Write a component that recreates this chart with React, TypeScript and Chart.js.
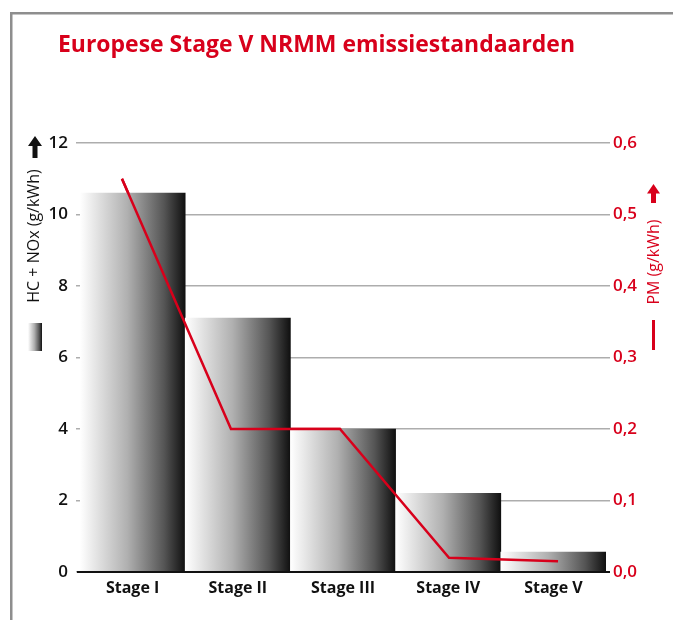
import React, { useEffect, useRef } from 'react';
import { Chart, registerables } from 'chart.js';

Chart.register(...registerables);

const stages = ['Stage I', 'Stage II', 'Stage III', 'Stage IV', 'Stage V'];
const hcNox = [10.6, 7.1, 4.0, 2.2, 0.56];
const pm = [0.55, 0.2, 0.2, 0.02, 0.015];
const hcTickLabels = ['0', '2', '4', '6', '8', '10', '12'];
const pmTickLabels = ['0,0', '0,1', '0,2', '0,3', '0,4', '0,5', '0,6'];
const titleText = 'Europese Stage V NRMM emissiestandaarden';
const leftAxisTitle = 'HC + NOx (g/kWh)';
const rightAxisTitle = 'PM (g/kWh)';

const RED = '#d8001b';
const INK = '#111111';
const GRID = 'rgba(0,0,0,0.32)';
const FONT = "'Open Sans', 'Noto Sans', sans-serif";

function barGradient(ctx: CanvasRenderingContext2D, x0: number, x1: number) {
  const g = ctx.createLinearGradient(x0, 0, x1, 0);
  g.addColorStop(0, '#ffffff');
  g.addColorStop(0.45, '#b0b0b0');
  g.addColorStop(0.8, '#555555');
  g.addColorStop(1, '#101010');
  return g;
}

const decorPlugin = {
  id: 'decor',
  beforeDraw(chart: any) {
    const ctx: CanvasRenderingContext2D = chart.ctx;
    ctx.save();
    ctx.fillStyle = '#ffffff';
    ctx.fillRect(0, 0, chart.width, chart.height);
    // frame
    ctx.strokeStyle = '#8e8e8e';
    ctx.lineWidth = 2.5;
    ctx.beginPath();
    ctx.moveTo(11.25, chart.height);
    ctx.lineTo(11.25, 13.25);
    ctx.lineTo(chart.width, 13.25);
    ctx.stroke();
    // title
    ctx.font = `bold 24px ${FONT}`;
    const w = ctx.measureText(titleText).width;
    ctx.translate(58, 52);
    ctx.scale(517 / w, 1);
    ctx.fillStyle = RED;
    ctx.textAlign = 'left';
    ctx.textBaseline = 'alphabetic';
    ctx.fillText(titleText, 0, 0);
    ctx.restore();
  },
  afterDraw(chart: any) {
    const ctx: CanvasRenderingContext2D = chart.ctx;
    const { chartArea, scales } = chart;
    const y0 = scales.y.getPixelForValue(0);
    ctx.save();
    ctx.strokeStyle = INK;
    ctx.lineWidth = 2;
    ctx.beginPath();
    ctx.moveTo(chartArea.left - 3, y0);
    ctx.lineTo(chartArea.right + 4, y0);
    ctx.stroke();
    ctx.restore();

    // redraw PM line above grid
    const meta = chart.getDatasetMeta(1);
    if (meta && meta.controller) meta.controller.draw();

    ctx.save();
    // left axis title
    ctx.font = `500 16px ${FONT}`;
    ctx.fillStyle = INK;
    ctx.textAlign = 'center';
    ctx.textBaseline = 'middle';
    ctx.save();
    ctx.translate(34, 236);
    ctx.rotate(-Math.PI / 2);
    ctx.fillText(leftAxisTitle, 0, 0);
    ctx.restore();
    // left arrow
    ctx.beginPath();
    ctx.moveTo(35, 136);
    ctx.lineTo(42, 146);
    ctx.lineTo(37.5, 146);
    ctx.lineTo(37.5, 158);
    ctx.lineTo(32.5, 158);
    ctx.lineTo(32.5, 146);
    ctx.lineTo(28, 146);
    ctx.closePath();
    ctx.fill();
    // left swatch
    ctx.fillStyle = barGradient(ctx, 28, 42);
    ctx.fillRect(28, 323, 14, 28);

    // right axis title
    ctx.fillStyle = RED;
    ctx.save();
    ctx.translate(654, 262);
    ctx.rotate(-Math.PI / 2);
    ctx.fillText(rightAxisTitle, 0, 0);
    ctx.restore();
    // right arrow
    ctx.beginPath();
    ctx.moveTo(653.5, 184);
    ctx.lineTo(660, 193.5);
    ctx.lineTo(656, 193.5);
    ctx.lineTo(656, 203);
    ctx.lineTo(651, 203);
    ctx.lineTo(651, 193.5);
    ctx.lineTo(647, 193.5);
    ctx.closePath();
    ctx.fill();
    // right swatch (line)
    ctx.fillRect(652, 320, 3, 30);
    ctx.restore();
  },
};

export default function App() {
  const ref = useRef<HTMLCanvasElement | null>(null);

  useEffect(() => {
    if (!ref.current) return;
    const chart = new Chart(ref.current, {
      type: 'bar',
      data: {
        labels: stages,
        datasets: [
          {
            type: 'bar',
            label: leftAxisTitle,
            data: hcNox,
            xAxisID: 'x',
            yAxisID: 'y',
            grouped: false,
            barPercentage: 1,
            categoryPercentage: 1,
            borderWidth: 0,
            backgroundColor: (c: any) => {
              const ch = c.chart;
              const xs = ch.scales && ch.scales.x;
              if (!xs || !ch.chartArea || c.dataIndex == null) return '#888888';
              const cx = xs.getPixelForValue(c.dataIndex);
              const half = (xs.right - xs.left) / stages.length / 2;
              return barGradient(ch.ctx, cx - half, cx + half);
            },
          } as any,
          {
            type: 'line',
            label: rightAxisTitle,
            data: pm.map((v, i) => ({ x: i, y: v })),
            xAxisID: 'xl',
            yAxisID: 'y1',
            borderColor: RED,
            borderWidth: 2.5,
            pointRadius: 0,
            tension: 0,
            fill: false,
          } as any,
        ],
      },
      options: {
        animation: false,
        responsive: false,
        devicePixelRatio: 1,
        layout: { padding: { left: 10, right: 7, top: 143, bottom: 0 } },
        plugins: {
          legend: { display: false },
          title: { display: false },
          tooltip: { enabled: false },
        },
        scales: {
          x: {
            type: 'category',
            offset: true,
            grid: { display: false, drawTicks: false },
            border: { display: false },
            ticks: {
              color: INK,
              font: { family: FONT, size: 16, weight: 'bold' },
              padding: 7,
              maxRotation: 0,
            },
            afterFit: (s: any) => {
              s.height = 48;
            },
          },
          xl: {
            type: 'linear',
            display: false,
            offset: false,
            grid: { offset: false },
            bounds: 'data',
            min: -0.385,
            max: 4.44,
          },
          y: {
            position: 'left',
            min: 0,
            max: 12,
            z: 1,
            ticks: {
              stepSize: 2,
              padding: 8,
              color: INK,
              font: { family: FONT, size: 17, weight: '600' },
              callback: (_v: any, i: number) => hcTickLabels[i],
            },
            grid: { color: GRID, lineWidth: 1.5, tickLength: 4 },
            border: { display: false },
            afterFit: (s: any) => {
              s.width = 70;
            },
          },
          y1: {
            position: 'right',
            min: 0,
            max: 0.6,
            ticks: {
              stepSize: 0.1,
              padding: 3,
              color: RED,
              font: { family: FONT, size: 17, weight: '600' },
              callback: (_v: any, i: number) => pmTickLabels[i],
            },
            grid: { drawOnChartArea: false, color: GRID, lineWidth: 1.5, tickLength: 4 },
            border: { display: false },
            afterFit: (s: any) => {
              s.width = 60;
            },
          },
        },
      } as any,
      plugins: [decorPlugin],
    });
    return () => chart.destroy();
  }, []);

  return (
    <div style={{ position: 'absolute', left: 0, top: 0, width: 673, height: 620, background: '#fff' }}>
      <canvas ref={ref} width={673} height={620} style={{ display: 'block', width: 673, height: 620 }} />
    </div>
  );
}
